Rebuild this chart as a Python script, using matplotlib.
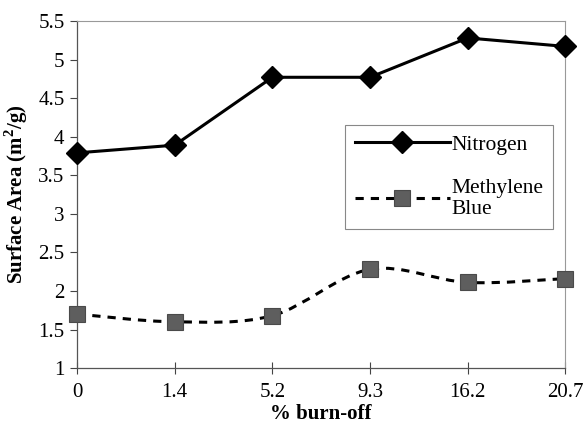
import numpy as np
import matplotlib
matplotlib.use("Agg")
import matplotlib.pyplot as plt
from matplotlib.path import Path
from matplotlib.patches import PathPatch
from matplotlib.lines import Line2D

plt.rcParams['font.family'] = ['Liberation Serif', 'DejaVu Serif']

burnoff = ['0', '1.4', '5.2', '9.3', '16.2', '20.7']
nitrogen = [3.79, 3.89, 4.77, 4.77, 5.28, 5.17]
methylene_blue = [1.70, 1.60, 1.68, 2.28, 2.11, 2.16]

DASH = (0, (2.7, 2.3))


def smooth_path(x, y):
    # Excel-style smoothed line as cubic bezier segments
    x = np.asarray(x, float)
    y = np.asarray(y, float)
    n = len(x)
    verts = [(x[0], y[0])]
    codes = [Path.MOVETO]
    for i in range(n - 1):
        i0 = max(i - 1, 0)
        i3 = min(i + 2, n - 1)
        c1 = (x[i] + (x[i + 1] - x[i0]) / 6, y[i] + (y[i + 1] - y[i0]) / 6)
        c2 = (x[i + 1] - (x[i3] - x[i]) / 6, y[i + 1] - (y[i3] - y[i]) / 6)
        verts += [c1, c2, (x[i + 1], y[i + 1])]
        codes += [Path.CURVE4] * 3
    return Path(verts, codes)


fig = plt.figure(figsize=(5.84, 4.28), dpi=100)
ax = fig.add_axes([0.132, 0.14, 0.836, 0.811])

xs = np.arange(len(burnoff))

# nitrogen: straight solid line
ax.plot(xs, nitrogen, color='black', lw=2.2, marker='D', ms=11,
        mfc='black', mec='black', clip_on=False, zorder=3)

# methylene blue: smoothed dashed line
patch = PathPatch(smooth_path(xs, methylene_blue), fill=False, edgecolor='black',
                  lw=2.2, linestyle=DASH, zorder=2)
ax.add_patch(patch)
ax.plot(xs, methylene_blue, ls='none', marker='s', ms=11,
        mfc='#5e5e5e', mec='#4a4a4a', mew=0.8, clip_on=False, zorder=3)

ax.set_xlim(0, 5)
ax.set_ylim(1, 5.5)
ax.set_xticks(xs)
ax.set_xticklabels(burnoff)
ax.set_yticks(np.arange(1, 5.51, 0.5))
ax.set_yticklabels(['1', '1.5', '2', '2.5', '3', '3.5', '4', '4.5', '5', '5.5'])
ax.tick_params(axis='y', direction='out', length=5, width=0.8, labelsize=15, pad=4,
               colors='#444444', labelcolor='black')
ax.tick_params(axis='x', direction='inout', length=9, width=0.8, labelsize=15, pad=6,
               colors='#444444', labelcolor='black')

for side in ['left', 'bottom']:
    ax.spines[side].set_color('#555555')
    ax.spines[side].set_linewidth(0.9)
for side in ['top', 'right']:
    ax.spines[side].set_color('#999999')
    ax.spines[side].set_linewidth(0.8)

ax.set_ylabel('Surface Area (m$^\\mathregular{2}$/g)', fontsize=15, fontweight='bold', labelpad=6)
ax.set_xlabel('% burn-off', fontsize=15, fontweight='bold', labelpad=2)

handles = [
    Line2D([], [], color='black', lw=2.2, marker='D', ms=11, mfc='black'),
    Line2D([], [], color='black', lw=2.2, ls=DASH, marker='s', ms=11,
           mfc='#5e5e5e', mec='#4a4a4a', mew=0.8),
]
leg = ax.legend(handles, ['Nitrogen', 'Methylene\nBlue'], loc='upper left',
                bbox_to_anchor=(0.549, 0.403, 0.426, 0.297), mode='expand',
                fontsize=15.5, frameon=True, fancybox=False, framealpha=1,
                handlelength=4.4, handletextpad=0.1, labelspacing=1.1,
                borderpad=0.45, borderaxespad=0)
leg.get_frame().set_edgecolor('#888888')
leg.get_frame().set_linewidth(0.8)

fig.savefig('out.png', dpi=100)
